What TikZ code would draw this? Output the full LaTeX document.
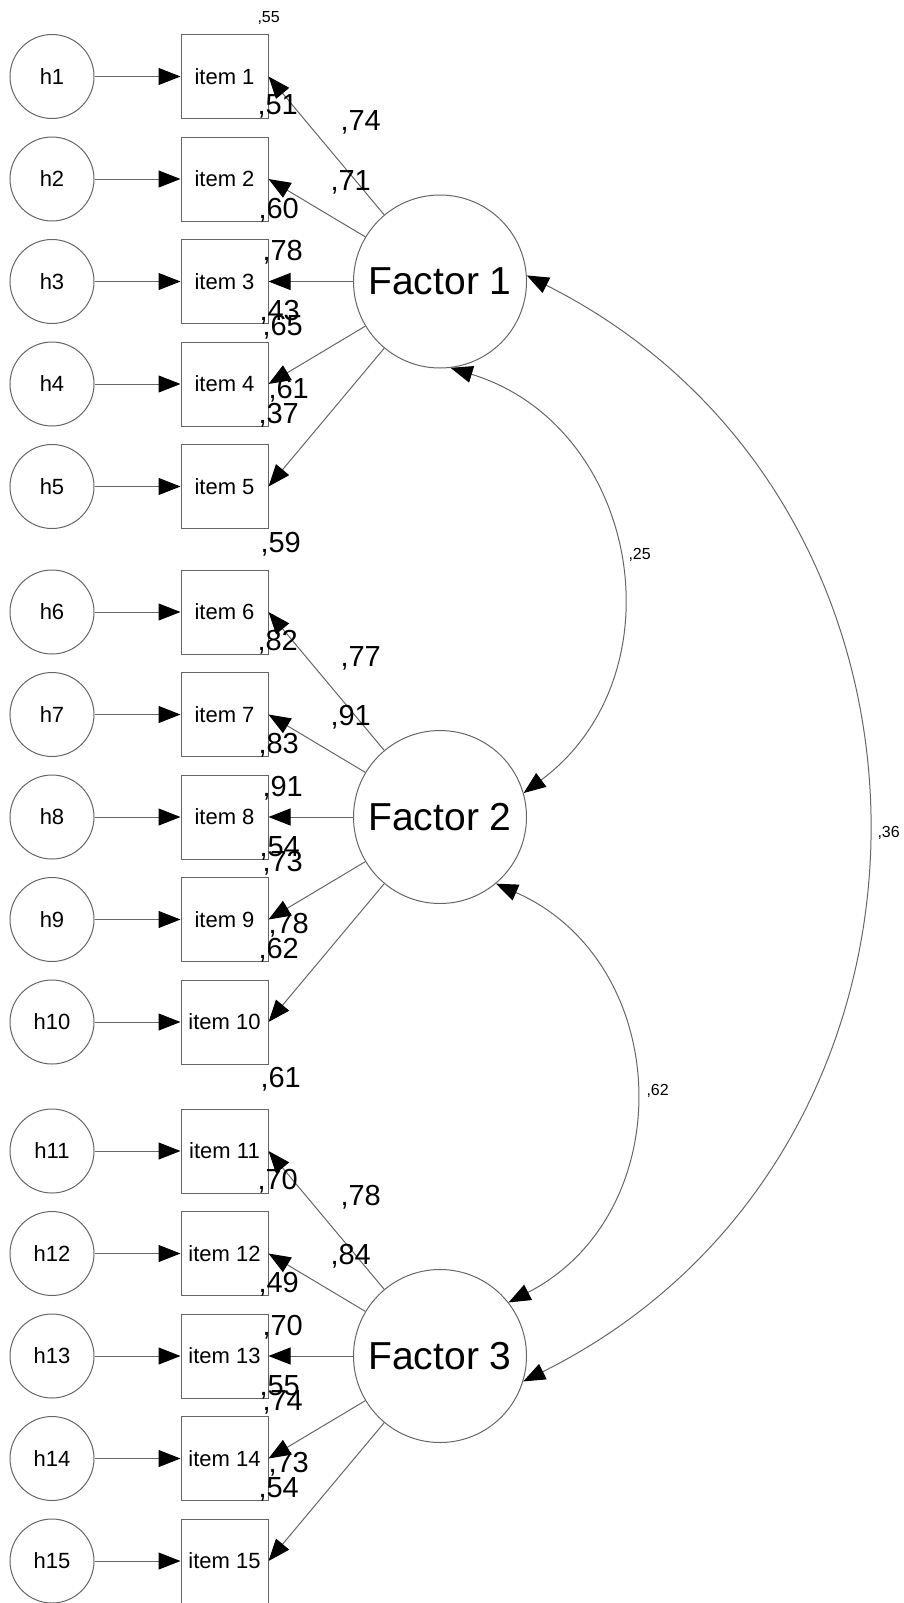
\documentclass[tikz,border=0pt]{standalone}
\usepackage{fontspec}
\setmainfont{Liberation Sans}
\usetikzlibrary{arrows.meta}
\begin{document}
\begin{tikzpicture}[x=1pt,y=-1pt,
  line width=1pt,
  tip/.tip={Triangle[length=22pt,width=17pt,color=black,fill=black]},
  err/.style={circle,draw=black!60,minimum size=84pt,inner sep=0pt,font=\fontsize{22}{22}\selectfont},
  obs/.style={rectangle,draw=black!60,minimum width=87pt,minimum height=84pt,inner sep=0pt,font=\fontsize{22}{22}\selectfont},
  lat/.style={circle,draw=black!60,minimum size=173pt,inner sep=0pt,font=\fontsize{39}{39}\selectfont},
  load/.style={draw=black!60,-tip},
  cov/.style={draw=black!60,tip-tip},
  est/.style={anchor=base west,inner sep=0pt,font=\fontsize{29}{29}\selectfont},
  corr/.style={anchor=base west,inner sep=0pt,font=\fontsize{16}{16}\selectfont},
]
\useasboundingbox (0,0) rectangle (903,1603);

% error terms, observed items and error paths
\foreach \i/\y in {1/76.5,2/179,3/281.5,4/384,5/486.5,
                   6/612,7/714.5,8/817,9/919.5,10/1022,
                   11/1151,12/1253.5,13/1356,14/1458.5,15/1561}{
  \node[err] (h\i) at (52,\y) {h\i};
  \node[obs] (i\i) at (224.5,\y) {item \i};
  \draw[load] (h\i) -- (i\i);
}

% latent factors
\node[lat] (F1) at (440,281.5) {Factor 1};
\node[lat] (F2) at (440,817) {Factor 2};
\node[lat] (F3) at (440,1356) {Factor 3};

% factor loadings
\foreach \i in {1,...,5}   \draw[load] (F1) -- (i\i.east);
\foreach \i in {6,...,10}  \draw[load] (F2) -- (i\i.east);
\foreach \i in {11,...,15} \draw[load] (F3) -- (i\i.east);

% factor covariances
\draw[cov] (F1.-83) .. controls (640,426) and (682.4,675) .. (F2.16);
\draw[cov] (F2.-50) .. controls (674.1,962.4) and (681.6,1213.1) .. (F3.38);
\draw[cov] (F1.4) .. controls (981,504) and (979,1154.7) .. (F3.-17);

% estimates, factor 1 block
\node[corr] (s55) at (257,23) {,55};
\node[est] (a1) at (257,114.5) {,51};
\node[est] (b1) at (340,130.5) {,74};
\node[est] (c1) at (330,190) {,71};
\node[est] (d1) at (258,218) {,60};
\node[est] (e1) at (262,260.5) {,78};
\node[est] (f1) at (259,320.5) {,43};
\node[est] (g1) at (262,335.5) {,65};
\node[est] (k1) at (268,398) {,61};
\node[est] (l1) at (258,423) {,37};
\node[est] (m1) at (260,552.5) {,59};

% estimates, factor 2 block
\node[est] (a2) at (257,650) {,82};
\node[est] (b2) at (340,666) {,77};
\node[est] (c2) at (330,725.5) {,91};
\node[est] (d2) at (258,753.5) {,83};
\node[est] (e2) at (262,796) {,91};
\node[est] (f2) at (259,856) {,54};
\node[est] (g2) at (262,871) {,73};
\node[est] (k2) at (268,933) {,78};
\node[est] (l2) at (258,958.5) {,62};
\node[est] (m2) at (260,1087) {,61};

% estimates, factor 3 block
\node[est] (a3) at (257,1189) {,70};
\node[est] (b3) at (340,1205) {,78};
\node[est] (c3) at (330,1264.5) {,84};
\node[est] (d3) at (258,1292.5) {,49};
\node[est] (e3) at (262,1335) {,70};
\node[est] (f3) at (259,1395) {,55};
\node[est] (g3) at (262,1410) {,74};
\node[est] (k3) at (268,1472.5) {,73};
\node[est] (l3) at (258,1497.5) {,54};

% covariance values
\node[corr] (r12) at (628,559) {,25};
\node[corr] (r13) at (877,837) {,36};
\node[corr] (r23) at (646,1095) {,62};
\end{tikzpicture}
\end{document}
